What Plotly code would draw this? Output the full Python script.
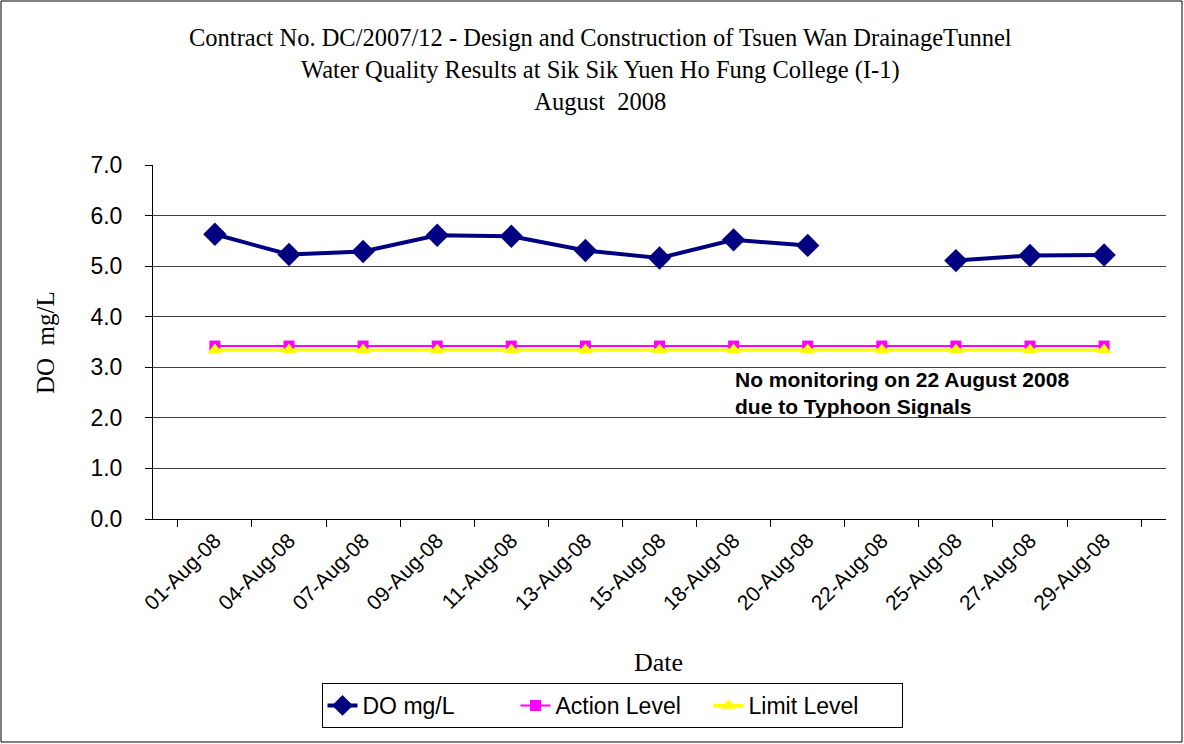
import plotly.graph_objects as go

# data
dates = [
    "01-Aug-08", "04-Aug-08", "07-Aug-08", "09-Aug-08", "11-Aug-08",
    "13-Aug-08", "15-Aug-08", "18-Aug-08", "20-Aug-08", "22-Aug-08",
    "25-Aug-08", "27-Aug-08", "29-Aug-08",
]
do_values = [5.63, 5.23, 5.29, 5.61, 5.59, 5.31, 5.16, 5.52, 5.41, None, 5.11, 5.21, 5.22]
action_level = [3.42] * 13
limit_level = [3.34] * 13

W, H = 1184, 744
L, R, T, B = 153, 18, 165, 225
pw, ph = W - L - R, H - T - B


def px(x):
    return (x - L) / pw


def py(y):
    return (H - B - y) / ph


fig = go.Figure()
fig.add_trace(go.Scatter(
    x=dates, y=do_values, name="DO mg/L", mode="lines+markers",
    line=dict(color="#000080", width=4),
    marker=dict(symbol="diamond", size=18, color="#000080"),
    connectgaps=False,
))
fig.add_trace(go.Scatter(
    x=dates, y=action_level, name="Action Level", mode="lines+markers",
    line=dict(color="#FF00FF", width=2),
    marker=dict(symbol="square", size=11, color="#FF00FF"),
))
fig.add_trace(go.Scatter(
    x=dates, y=limit_level, name="Limit Level", mode="lines+markers",
    line=dict(color="#FFFF00", width=3),
    marker=dict(symbol="triangle-up", size=13, color="#FFFF00"),
))

fig.update_layout(
    width=W, height=H,
    margin=dict(l=L, r=R, t=T, b=B),
    paper_bgcolor="white", plot_bgcolor="white",
    font=dict(family="Liberation Sans, Arial", color="black"),
    showlegend=True,
    legend=dict(
        orientation="h", x=px(612), xanchor="center", y=py(683), yanchor="top",
        bordercolor="black", borderwidth=1, font=dict(size=23),
        tracegroupgap=0, entrywidth=148,
    ),
    xaxis=dict(
        type="category", tickson="boundaries", ticks="outside", ticklen=7,
        tickcolor="black", showline=True, linecolor="black", linewidth=1,
        showgrid=False, tickangle=-45, tickfont=dict(size=21),
    ),
    yaxis=dict(
        range=[0, 7], dtick=1, tickformat=".1f", ticks="outside", ticklen=7,
        tickcolor="black", showline=True, linecolor="black", linewidth=1,
        showgrid=True, gridcolor="#404040", gridwidth=1, zeroline=False,
        tickfont=dict(size=23), ticklabelstandoff=18,
    ),
    annotations=[
        dict(
            text="Contract No. DC/2007/12 - Design and Construction of Tsuen Wan DrainageTunnel"
                 "<br>Water Quality Results at Sik Sik Yuen Ho Fung College (I-1)<br>August  2008",
            x=px(600), y=py(70), xref="paper", yref="paper", showarrow=False,
            font=dict(family="Liberation Serif, Times New Roman", size=24.5),
            align="center", xanchor="center", yanchor="middle",
        ),
        dict(
            text="DO  mg/L", x=px(45), y=py(343), xref="paper", yref="paper",
            showarrow=False, textangle=-90,
            font=dict(family="Liberation Serif", size=25),
            xanchor="center", yanchor="middle",
        ),
        dict(
            text="Date", x=px(658), y=py(662), xref="paper", yref="paper",
            showarrow=False, font=dict(family="Liberation Serif", size=26),
            xanchor="center", yanchor="middle",
        ),
        dict(
            text="<b>No monitoring on 22 August 2008<br>due to Typhoon Signals</b>",
            x=px(733), y=py(393), xref="paper", yref="paper", showarrow=False,
            font=dict(family="Liberation Sans Narrow, Liberation Sans", size=21),
            align="left", xanchor="left", yanchor="middle",
        ),
    ],
    shapes=[
        dict(type="rect", xref="paper", yref="paper",
             x0=px(1), x1=px(1182), y0=py(742), y1=py(1),
             line=dict(color="black", width=1)),
    ],
)

fig.write_html(
    "out.html",
    config={"displayModeBar": False},
    post_script="document.body.style.margin='0';",
)
